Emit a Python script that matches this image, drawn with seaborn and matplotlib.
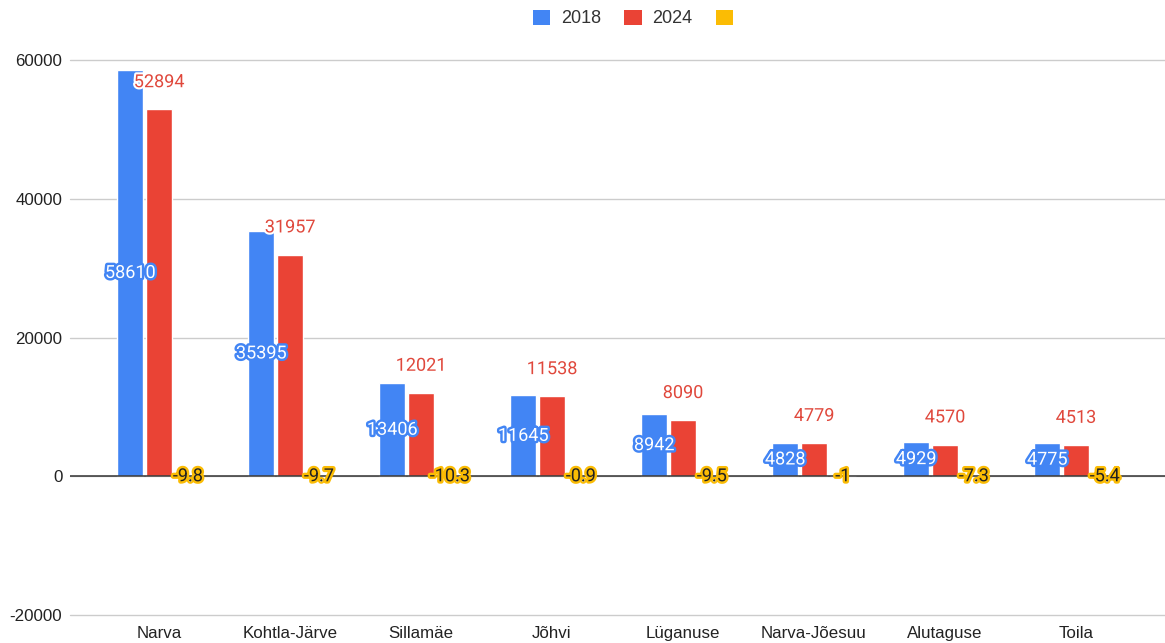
import numpy as np
import pandas as pd
import matplotlib
matplotlib.use("Agg")
import matplotlib.pyplot as plt
import matplotlib.patheffects as pe
from matplotlib.patches import Patch
import seaborn as sns

categories = ["Narva", "Kohtla-Järve", "Sillamäe", "Jõhvi", "Lüganuse",
              "Narva-Jõesuu", "Alutaguse", "Toila"]
values_2018 = [58610, 35395, 13406, 11645, 8942, 4828, 4929, 4775]
values_2024 = [52894, 31957, 12021, 11538, 8090, 4779, 4570, 4513]
change_pct = [-9.8, -9.7, -10.3, -0.9, -9.5, -1, -7.3, -5.4]
series_names = ["2018", "2024", "Muutus"]
legend_labels = ["2018", "2024", ""]
y_ticks = [-20000, 0, 20000, 40000, 60000]

BLUE = "#4285F4"
RED = "#EA4335"
YELLOW = "#FBBC04"

df = pd.DataFrame({
    "Omavalitsus": categories * 3,
    "Seeria": [series_names[0]] * len(categories) + [series_names[1]] * len(categories)
              + [series_names[2]] * len(categories),
    "Väärtus": values_2018 + values_2024 + change_pct,
})

sns.set_theme(style="white")
plt.rcParams["font.family"] = ["Liberation Sans", "DejaVu Sans"]

fig = plt.figure(figsize=(11.65, 6.43), dpi=100)
ax = fig.add_axes([70 / 1165, 1 - 615 / 643, 1 - 70 / 1165, (615 - 60) / 643])

sns.barplot(data=df, x="Omavalitsus", y="Väärtus", hue="Seeria",
            hue_order=series_names, order=categories,
            palette=[BLUE, RED, YELLOW], width=0.66, gap=0.1,
            saturation=1, errorbar=None, ax=ax, legend=False, zorder=3)

ax.set_ylim(y_ticks[0], y_ticks[-1])
ax.set_xlim(-0.68, len(categories) - 1 + 0.68)
ax.set_yticks(y_ticks)
ax.set_yticklabels([str(t) for t in y_ticks])
ax.set_xlabel("")
ax.set_ylabel("")
for s in ax.spines.values():
    s.set_visible(False)
ax.grid(axis="y", color="#cccccc", linewidth=1, zorder=0)
for gl in ax.get_ygridlines():
    gl.set_clip_on(False)
ax.axhline(0, color="#333333", linewidth=1.1, zorder=4)
ax.tick_params(axis="both", length=0, labelsize=12.2, colors="#222222")
ax.tick_params(axis="y", pad=5.5)
ax.tick_params(axis="x", pad=8)

label_font = ["Roboto", "DejaVu Sans"]
containers = ax.containers
# 2018 labels: centered inside bar, white text with blue outline
for bar, v in zip(containers[0], values_2018):
    cx = bar.get_x() + bar.get_width() / 2
    ax.text(cx, bar.get_height() / 2, str(v), ha="center", va="center",
            color="white", fontsize=13, family=label_font, zorder=6,
            path_effects=[pe.withStroke(linewidth=3.5, foreground=BLUE)])
# 2024 labels: above bar, red text with white halo
for bar, v in zip(containers[1], values_2024):
    cx = bar.get_x() + bar.get_width() / 2
    ax.annotate(str(v), (cx, bar.get_height()), xytext=(0, 19.5),
                textcoords="offset points", ha="center", va="center",
                color="#E0483C", fontsize=13, family=label_font, zorder=6,
                path_effects=[pe.withStroke(linewidth=3, foreground="white")])
# change labels: black text with yellow outline at zero
for bar, v in zip(containers[2], change_pct):
    cx = bar.get_x() + bar.get_width() / 2
    txt = f"{v:g}"
    ax.text(cx, 0, txt, ha="center", va="center",
            color="#222222", fontsize=13, family=label_font, zorder=6,
            path_effects=[pe.withStroke(linewidth=3.5, foreground=YELLOW)])

handles = [Patch(facecolor=c, edgecolor="none") for c in [BLUE, RED, YELLOW]]
fig.legend(handles, legend_labels, loc="center", bbox_to_anchor=(0.548, 1 - 18.5 / 643),
           ncol=3, frameon=False, fontsize=13, handlelength=0.95, handleheight=0.95,
           handletextpad=0.6, columnspacing=1.3, labelcolor="#333333")

fig.savefig("out.png", dpi=100)
